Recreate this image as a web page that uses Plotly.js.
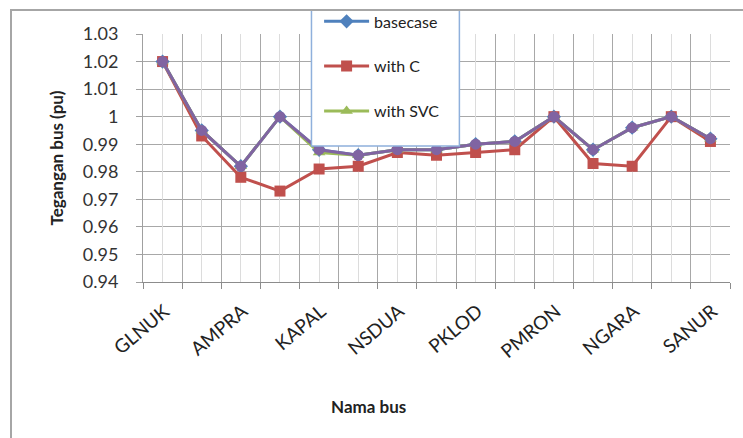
<!DOCTYPE html>
<html>
<head>
<meta charset="utf-8">
<script src="https://cdn.plot.ly/plotly-3.0.1.min.js"></script>
<style>
  html, body { margin: 0; padding: 0; background: #fff; }
  #wrap { position: relative; width: 743px; height: 438px; overflow: hidden; }
  #frame { position: absolute; left: 10px; top: 9px; width: 900px; height: 600px; border: 2px solid #a6a6a6; pointer-events: none; z-index: 2; }
  #chart { position: absolute; left: 0; top: 0; width: 743px; height: 438px; z-index: 1; }
</style>
</head>
<body>
<div id="wrap">
  <div id="chart"></div>
  <div id="frame"></div>
</div>
<script>
// Bus names (only every other one is labelled on the axis)
const buses = ["GLNUK","GNYAR","AMPRA","BTRTI","KAPAL","PSGRN","NSDUA","PDSBN","PKLOD","ANTRI","PMRON","ASARI","NGARA","BDGUL","SANUR"];
const busLabels = ["GLNUK","","AMPRA","","KAPAL","","NSDUA","","PKLOD","","PMRON","","NGARA","","SANUR"];

// Bus voltages (pu)
const basecase   = [1.020,0.995,0.982,1.000,0.988,0.986,0.988,0.988,0.990,0.991,1.000,0.988,0.996,1.000,0.992];
const withC      = [1.020,0.993,0.978,0.973,0.981,0.982,0.987,0.986,0.987,0.988,1.000,0.983,0.982,1.000,0.991];
const withSVC    = [1.020,0.995,0.982,1.000,0.987,0.986,0.988,0.988,0.990,0.991,1.000,0.988,0.996,1.000,0.992];
const withCSVC   = [1.020,0.995,0.982,1.000,0.988,0.986,0.988,0.988,0.990,0.991,1.000,0.988,0.996,1.000,0.992];

const yTicks = [0.94,0.95,0.96,0.97,0.98,0.99,1.00,1.01,1.02,1.03];
const yTickText = ["0.94","0.95","0.96","0.97","0.98","0.99","1","1.01","1.02","1.03"];

const FONT = "Lato, 'Open Sans', sans-serif";
const xRange = [-0.5, buses.length - 0.5];

const traces = [
  { x: buses, y: basecase, name: "basecase", type: "scatter", mode: "lines+markers",
    legendgroup: "a",
    line: { color: "#4F81BD", width: 3 },
    marker: { symbol: "diamond", size: 11, color: "#4F81BD" } },
  { x: buses, y: withC, name: "with C", type: "scatter", mode: "lines+markers",
    legendgroup: "b",
    line: { color: "#C0504D", width: 3 },
    marker: { symbol: "square", size: 11, color: "#C0504D" } },
  { x: buses, y: withSVC, name: "with SVC", type: "scatter", mode: "lines+markers",
    legendgroup: "c",
    line: { color: "#9BBB59", width: 3 },
    marker: { symbol: "triangle-up", size: 11, color: "#9BBB59" } },
  { x: buses, y: withCSVC, name: "with C & SVC", type: "scatter", mode: "lines+markers",
    xaxis: "x2", showlegend: false,
    line: { color: "#8064A2", width: 3 },
    marker: { symbol: "circle", size: 11, color: "#8064A2" } }
];

const layout = {
  width: 743, height: 438,
  margin: { l: 143, r: 13, t: 34, b: 156, autoexpand: false },
  paper_bgcolor: "rgba(0,0,0,0)",
  plot_bgcolor: "rgba(0,0,0,0)",
  font: { family: FONT, color: "#222" },
  showlegend: true,
  legend: {
    x: 0.30, xanchor: "left", yref: "container", y: 0.990, yanchor: "top",
    bgcolor: "rgba(0,0,0,0)", borderwidth: 0,
    traceorder: "grouped", tracegroupgap: 21,
    itemwidth: 45,
    font: { family: FONT, size: 16, color: "#222" }
  },
  xaxis: {
    type: "category", range: xRange, autorange: false,
    categoryorder: "array", categoryarray: buses,
    tickmode: "array", tickvals: buses, ticktext: busLabels,
    tickson: "boundaries",
    ticks: "outside", ticklen: 6, tickcolor: "#8c8c8c", tickwidth: 1,
    tickangle: -40, ticklabelshift: 2, ticklabelstandoff: 10,
    tickfont: { family: FONT, size: 19, color: "#222" },
    showgrid: true, gridcolor: "#a8a8a8", gridwidth: 1,
    showline: true, linecolor: "#8c8c8c", linewidth: 1,
    zeroline: false, fixedrange: true, automargin: false
  },
  xaxis2: {
    type: "category", overlaying: "x", range: xRange, autorange: false,
    categoryorder: "array", categoryarray: buses,
    showticklabels: false, ticks: "",
    showgrid: true, gridcolor: "#dcdcdc", gridwidth: 1,
    showline: false, zeroline: false, fixedrange: true
  },
  yaxis: {
    range: [0.94, 1.03],
    tickmode: "array", tickvals: yTicks, ticktext: yTickText,
    ticks: "outside", ticklen: 6, tickcolor: "#a0a0a0",
    ticklabelstandoff: 14,
    tickfont: { family: FONT, size: 18, color: "#333" },
    showgrid: true, gridcolor: "#a8a8a8", gridwidth: 1,
    showline: true, linecolor: "#a0a0a0", linewidth: 1,
    zeroline: false, fixedrange: true, automargin: false,
    title: { text: "<b>Tegangan bus (pu)</b>", font: { family: FONT, size: 17, color: "#222" }, standoff: 14 }
  },
  shapes: [
    { type: "rect", xref: "paper", yref: "paper", layer: "above",
      x0: 0.287, x1: 0.539, y0: 0.548, y1: 1.097,
      fillcolor: "#ffffff", line: { color: "#8fb0dc", width: 1.5 } }
  ],
  annotations: [
    { text: "<b>Nama bus</b>", xref: "paper", yref: "paper", x: 0.384, y: -0.50,
      xanchor: "center", yanchor: "middle", showarrow: false,
      font: { family: FONT, size: 17, color: "#222" } }
  ]
};

Plotly.newPlot("chart", traces, layout, { displayModeBar: false, staticPlot: true });
</script>
</body>
</html>
